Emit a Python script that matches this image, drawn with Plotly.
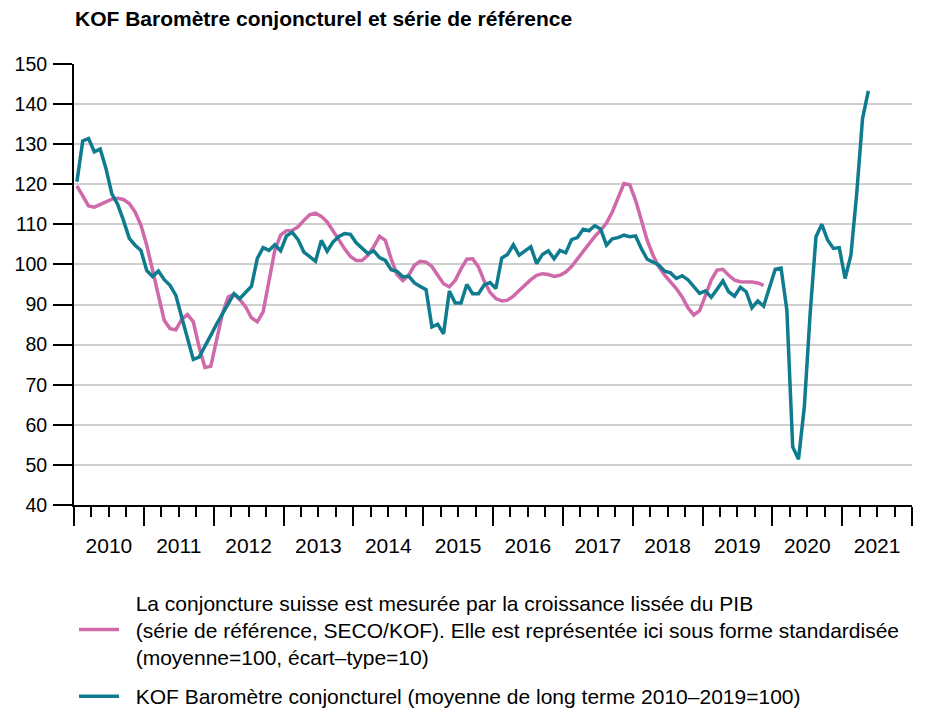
import pandas as pd
import plotly.graph_objects as go

# ---- data (monthly, starting January 2010) ----
start_month = "2010-01"

kof_barometer = [
    120.6, 130.8, 131.4, 128.1, 128.8, 123.9, 117.6, 115.0, 111.0, 106.5, 104.8, 103.5,
    98.5, 97.0, 98.4, 96.2, 94.8, 92.3, 86.9, 81.9, 76.3, 76.9, 79.8, 82.3,
    85.1, 87.7, 90.4, 92.7, 91.5, 93.1, 94.6, 101.5, 104.2, 103.5, 104.9, 103.4,
    107.1, 108.0, 106.2, 103.1, 102.0, 100.8, 106.0, 103.3, 105.6, 107.0, 107.7, 107.5,
    105.4, 104.1, 102.7, 103.4, 101.7, 101.0, 98.7, 98.3, 96.9, 97.1, 95.4, 94.5,
    93.7, 84.4, 85.1, 82.7, 93.4, 90.4, 90.4, 95.0, 92.7, 92.7, 94.9, 95.5,
    94.0, 101.6, 102.5, 104.9, 102.3, 103.4, 104.4, 100.2, 102.5, 103.4, 101.4, 103.5,
    102.9, 106.2, 106.7, 108.8, 108.4, 109.7, 108.8, 104.8, 106.4, 106.7, 107.3, 106.9,
    107.1, 103.9, 101.3, 100.6, 99.8, 98.3, 97.9, 96.5, 97.2, 96.2, 94.6, 92.8,
    93.4, 91.8, 93.8, 95.9, 93.2, 92.1, 94.3, 93.2, 89.2, 90.9, 89.6, 94.4,
    98.8, 99.1, 88.6, 54.5, 51.4, 64.5, 87.8, 106.9, 110.0, 106.1, 104.0, 104.2,
    96.5, 102.3, 117.7, 136.4, 143.3,
]

reference_series = [
    119.6, 117.0, 114.6, 114.3, 115.0, 115.7, 116.3, 116.5, 116.2, 115.2, 113.1, 109.8,
    104.8, 98.6, 91.9, 86.1, 84.0, 83.7, 86.3, 87.5, 85.7, 79.4, 74.3, 74.6,
    81.1, 87.7, 91.9, 92.6, 91.2, 89.4, 86.7, 85.7, 88.2, 95.5, 103.5, 107.3,
    108.4, 108.5, 109.4, 111.0, 112.4, 112.8, 112.0, 110.6, 108.5, 106.2, 103.9, 102.0,
    101.0, 101.0, 102.3, 104.4, 107.0, 106.0, 101.4, 97.5, 96.0, 97.3, 99.8, 100.8,
    100.6, 99.5, 97.3, 95.2, 94.4, 96.0, 98.9, 101.3, 101.4, 99.4, 95.8, 93.0,
    91.5, 90.9, 91.1, 92.1, 93.5, 95.0, 96.2, 97.3, 97.7, 97.5, 97.0, 97.3,
    98.1, 99.5, 101.4, 103.5, 105.4, 107.0, 108.5, 110.3, 113.1, 116.8, 120.2, 119.9,
    116.0, 111.0, 106.0, 102.3, 99.4, 97.3, 95.6, 94.0, 91.9, 89.2, 87.4, 88.5,
    92.2, 96.1, 98.6, 98.8, 97.3, 96.1, 95.7, 95.7, 95.6, 95.4, 94.8,
]

years = list(range(2010, 2022))
year_labels = [str(y) for y in years]
y_ticks = list(range(40, 151, 10))

title_text = "KOF Baromètre conjoncturel et série de référence"
ref_lines = [
    "La conjoncture suisse est mesurée par la croissance lissée du PIB",
    "(série de référence, SECO/KOF). Elle est représentée ici sous forme standardisée",
    "(moyenne=100, écart\u2013type=10)",
]
kof_lines = ["KOF Baromètre conjoncturel (moyenne de long terme 2010\u20132019=100)"]

PINK = "#cf69aa"
TEAL = "#0e7c8e"
FONT = "Liberation Sans, Arial, Helvetica, sans-serif"
FS = 21
PAD = "\u00a0\u00a0"

# the page body has an 8px margin, so the figure is sized to fit the window
W, H = 922, 713


def month_positions(n):
    p = pd.period_range(start_month, periods=n, freq="M")
    return list(p.year + (p.month - 0.5) / 12.0)


def legend_text(lines):
    return "<br>".join(PAD + s for s in lines)


fig = go.Figure()
fig.add_trace(go.Scatter(
    x=month_positions(len(reference_series)), y=reference_series, mode="lines",
    name=legend_text(ref_lines), line=dict(color=PINK, width=3.5), legendgroup="a"))
fig.add_trace(go.Scatter(
    x=month_positions(len(kof_barometer)), y=kof_barometer, mode="lines",
    name=legend_text(kof_lines), line=dict(color=TEAL, width=3.5), legendgroup="b"))

fig.add_hline(y=100, line=dict(color="black", width=1.2), layer="below")

x_range = [years[0], years[-1] + 1]
fig.update_layout(
    width=W, height=H,
    margin=dict(l=66, r=18, t=56, b=216, autoexpand=False),
    paper_bgcolor="white", plot_bgcolor="white",
    font=dict(family=FONT, size=FS, color="black"),
    title=dict(text="<b>" + title_text + "</b>", xref="container", yref="container",
               x=67 / W, xanchor="left", y=1 - 11 / H, yanchor="middle",
               font=dict(size=FS, family=FONT, color="black")),
    xaxis=dict(range=x_range, tickvals=years + [years[-1] + 1], ticktext=[""] * (len(years) + 1),
               ticks="outside", ticklen=19, tickwidth=2, tickcolor="black",
               minor=dict(dtick=0.25, tick0=years[0], ticks="outside", ticklen=10,
                          tickwidth=2, tickcolor="black", showgrid=False),
               showgrid=False, zeroline=False, showline=True, linecolor="black", linewidth=2),
    xaxis2=dict(range=x_range, overlaying="x", anchor="y", side="bottom",
                tickvals=[y + 0.5 for y in years], ticktext=year_labels,
                ticks="outside", ticklen=22, tickcolor="rgba(0,0,0,0)",
                showgrid=False, zeroline=False, showline=False,
                tickfont=dict(size=FS)),
    yaxis=dict(range=[40, 150], tickvals=y_ticks, ticks="outside", ticklen=19, tickwidth=2,
               tickcolor="black", showgrid=True, gridcolor="#cfcfcf", gridwidth=2,
               zeroline=False, showline=True, linecolor="black", linewidth=2,
               ticklabelstandoff=2, tickfont=dict(size=19.5)),
    legend=dict(x=0.0, xanchor="left", y=-0.175, yanchor="top", orientation="v",
                traceorder="grouped", tracegroupgap=9, itemwidth=40,
                font=dict(size=FS), bgcolor="rgba(0,0,0,0)"),
    showlegend=True,
)
# invisible trace to activate the year-label axis
fig.add_trace(go.Scatter(x=[years[0]], y=[None], xaxis="x2", showlegend=False, hoverinfo="skip"))

fig.write_html("out.html")
